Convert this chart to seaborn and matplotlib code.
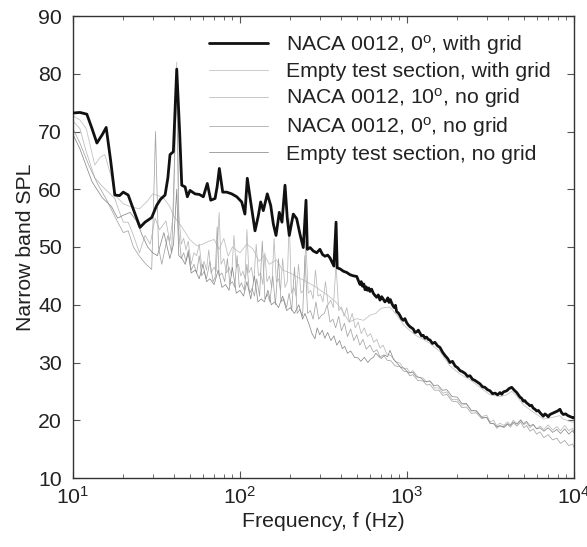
import numpy as np
import pandas as pd
import matplotlib
matplotlib.use("Agg")
import matplotlib.pyplot as plt
import seaborn as sns

# Narrow-band spectra, frequency in Hz and SPL in dB
f_naca0_grid = [10.0, 11.0, 12.1, 13.0, 13.9, 15.0, 15.8, 16.8, 17.8, 19.0, 20.0, 21.4, 23.0, 25.2, 27.0,
                29.6, 31.7, 33.5, 35.6, 37.0, 38.1, 39.9, 41.8, 43.5, 44.8, 46.9, 48.4, 50.2, 53.8, 57.1,
                60.3, 63.7, 66.8, 70.9, 73.0, 75.2, 78.8, 83.2, 89.2, 95.6, 102.4, 107.0, 110.6, 115.9,
                123.0, 128.7, 133.0, 137.9, 145.7, 152.7, 158.3, 164.3, 171.9, 178.4, 186.0, 192.0, 197.3,
                208.5, 218.5, 228.7, 239.3, 248.5, 253.0, 263, 275, 288, 301, 312, 323, 335, 346, 365, 376,
                382, 398, 416, 435, 456, 478, 500, 511, 523, 532, 541, 551, 561, 570, 580, 590, 600, 614,
                628, 643, 658, 673, 689, 705, 720, 737, 755, 768, 780, 795, 809, 825, 840, 853, 867, 886,
                905, 927, 950, 972, 995, 1018, 1042, 1066, 1090, 1116, 1143, 1169, 1195, 1223, 1252, 1281,
                1310, 1341, 1373, 1420, 1470, 1522, 1576, 1632, 1690, 1750, 1809, 1873, 1940, 2008, 2077,
                2150, 2230, 2305, 2384, 2465, 2550, 2640, 2736, 2830, 2930, 3030, 3140, 3250, 3370, 3490,
                3605, 3690, 3780, 3860, 3954, 4090, 4236, 4390, 4539, 4640, 4750, 4860, 4970, 5080, 5200,
                5320, 5450, 5570, 5700, 5840, 5980, 6120, 6260, 6400, 6550, 6700, 6850, 7010, 7180, 7440,
                7700, 7970, 8240, 8430, 8630, 8910, 9200, 9550, 9900, 10000]
spl_naca0_grid = [73.2, 73.3, 73.0, 70.5, 68.0, 69.5, 70.7, 65.0, 59.0, 58.9, 59.5, 59.0, 56.5, 53.4, 54.3,
                  55.1, 57.2, 58.3, 59.0, 62.0, 66.0, 66.5, 80.8, 70.0, 60.7, 60.4, 58.7, 59.8, 59.2, 59.1,
                  58.7, 61.0, 58.1, 58.4, 60.5, 63.6, 59.5, 59.5, 59.2, 58.7, 57.8, 55.7, 61.9, 57.8,
                  52.8, 55.4, 57.8, 56.3, 59.2, 57.2, 54.0, 52.0, 56.0, 54.3, 60.7, 54.9, 52.0,
                  55.7, 54.9, 52.2, 49.9, 58.1, 49.6, 49.9, 49.3, 49.0, 49.6, 48.7, 48.4, 48.6, 48.1, 46.7, 54.3,
                  46.4, 46.2, 45.8, 45.6, 45.2, 45.0, 44.9, 44.2, 43.5, 44.0, 43.2, 43.6, 42.6, 43.1, 42.5, 42.9,
                  42.3, 42.7, 42.0, 41.6, 41.3, 41.7, 40.8, 41.4, 41.0, 40.5, 40.8, 41.2, 40.4, 40.9, 40.3,
                  39.8, 39.5, 39.9, 38.8, 38.6, 38.2, 37.6, 37.3, 37.6, 36.9, 36.5, 36.2, 36.0, 35.8, 35.2,
                  35.3, 35.6, 35.1, 34.6, 34.7, 34.2, 34.4, 34.0, 33.9, 33.3, 33.5, 32.9, 32.6, 31.8, 31.2,
                  30.7, 30.0, 30.2, 29.4, 29.1, 28.6, 28.4, 28.1, 27.6, 27.7, 27.1, 26.9, 26.6, 26.3, 25.8,
                  25.7, 25.3, 25.1, 24.6, 24.7, 24.4, 24.8, 24.5, 24.9, 25.0, 25.1, 25.5, 25.7, 25.2, 24.8,
                  24.4, 24.0, 23.8, 23.3, 23.4, 23.0, 22.8, 22.5, 22.6, 22.1, 21.9, 21.6, 21.7, 21.3, 21.0,
                  20.7, 21.1, 20.9, 20.6, 21.0, 21.2, 21.4, 21.6, 21.9, 21.3, 21.0, 21.1, 20.8, 20.6, 20.4,
                  20.5]

f_empty_grid = [10, 11, 12, 13.5, 14.5, 15.5, 17, 17.8, 20, 22, 25, 28, 30, 33, 35, 38, 40, 43, 45, 50, 55,
                60, 65, 70, 75, 80, 85, 90, 100, 110, 120, 130, 140, 150, 165, 180, 200, 220, 250, 280, 300,
                340, 380, 420, 450, 500, 550, 600, 650, 700, 790, 870, 950, 1042, 1143, 1252, 1373, 1576,
                1809, 2077, 2384, 2736, 3140, 3605, 3954, 4236, 4539, 4970, 5450, 5980, 6550, 7180, 8240,
                8630, 9900]
spl_empty_grid = [72.7, 72.0, 70.5, 64.2, 65.5, 66.0, 62.0, 59.0, 57.5, 57.0, 56.6, 58.0, 59.2, 58.8, 58.4,
                  57.0, 55.4, 54.2, 53.4, 51.3, 50.2, 50.5, 51.0, 51.3, 49.6, 51.5, 48.4, 50.0, 49.0, 50.5,
                  49.6, 47.5, 48.6, 47.0, 47.8, 46.0, 45.5, 44.8, 44.0, 43.2, 42.6, 41.5, 40.3, 38.5, 37.0,
                  37.6, 37.3, 38.2, 38.5, 39.4, 39.6, 38.2, 36.6, 35.5, 34.6, 34.0, 33.3, 31.9, 29.4, 28.0,
                  27.0, 25.7, 24.4, 24.1, 24.4, 25.0, 24.2, 22.7, 21.8, 21.0, 20.2, 20.4, 20.8, 20.2, 19.6]

f_naca10 = [10, 11, 12, 13.5, 15, 17.8, 19, 20, 21.4, 23, 25, 27, 29, 31, 33, 36, 38, 40,
            41.8, 43, 44.5, 46, 47.5, 49, 51, 53, 55, 57, 59, 61, 63, 65, 67, 70, 72, 75, 77, 80, 83, 86,
            89, 92, 95, 98, 101, 104, 107, 110, 113, 117, 121, 125, 129, 133, 137, 141, 145, 150, 155,
            160, 165, 170, 175, 180, 186, 192, 197, 203, 210, 217, 224, 232, 240, 248, 256, 265, 274,
            283, 293, 303, 314, 325, 337, 349, 362, 376, 390, 405, 420, 436, 452, 470, 490, 510, 532,
            555, 580, 605, 632, 660, 689, 720, 755, 800, 850, 906, 955, 1000, 1040, 1085, 1160, 1250,
            1310, 1373, 1460, 1550, 1640, 1730, 1860, 2000, 2130, 2270, 2430, 2600, 2800, 3000, 3150,
            3300, 3450, 3600, 3800, 4000, 4160, 4330, 4560, 4800, 5000, 5200, 5450, 5700, 5980, 6260,
            6600, 7000, 7450, 7900, 8300, 8800, 9300, 9800, 10000]
spl_naca10 = [71.8, 70.5, 66.5, 62.0, 60.5, 58.4, 56.0, 54.3, 54.3, 52.0, 49.0, 52.0, 50.5, 55.0, 53.0,
              54.5, 51.0, 56.0,
              82.0, 56.0, 50.5, 51.5, 49.5, 51.0, 47.0, 49.0, 48.5, 50.5, 46.5, 47.5, 46.0, 49.5, 45.5,
              46.5, 45.8, 56.0, 47.0, 48.0, 45.5, 46.5, 45.0, 52.0, 46.5, 47.0, 45.0, 45.8, 44.5, 53.0,
              45.5, 46.5, 44.0, 50.5, 45.0, 45.5, 43.5, 49.0, 44.0, 45.0, 43.0, 51.5, 44.0, 44.5, 42.5,
              48.0, 43.0, 44.0, 55.0, 42.0, 43.0, 41.5, 47.0, 42.0, 42.5, 51.0, 42.0, 42.5, 41.0, 46.0,
              41.5, 41.8, 40.5, 44.0, 40.0, 40.8, 39.5, 47.0, 39.0, 39.6, 38.0, 39.5, 37.0, 38.5, 36.0,
              37.0, 35.0, 36.0, 34.5, 35.0, 33.5, 34.0, 32.5, 33.0, 31.5, 31.2, 30.2, 29.9, 29.0, 29.0,
              28.2, 28.6, 27.5, 27.3, 26.6, 26.8, 25.6, 25.6, 24.7, 24.9, 23.6, 23.6, 22.6, 22.8, 21.6,
              21.7, 20.6, 20.9, 19.7, 20.0, 19.0, 19.5, 19.1, 19.7, 19.2, 20.0, 19.4, 20.1, 19.2, 19.6,
              18.7, 19.2, 18.5, 19.0, 18.4, 19.2, 18.3, 18.9, 18.2, 19.1, 18.2, 18.6, 18.0]

f_naca0 = [10, 11, 12.5, 14, 16, 18, 20, 21.4, 23, 25, 27, 29.6, 31.2, 32.5, 34, 37, 39,
           41.8, 43, 44.5, 46, 47.5, 49, 51, 53, 55, 57, 59, 61, 63, 66, 69, 71, 73, 75, 78, 81, 84, 87,
           90, 93, 96, 99, 102, 106, 110, 114, 118, 122, 126, 131, 136, 141, 146, 151, 157, 163, 170,
           176, 183, 190, 197, 204, 212, 220, 228, 237, 245, 254, 264, 274, 285, 296, 308, 320, 333, 346,
           360, 374, 390, 405, 422, 440, 460, 480, 500, 522, 545, 570, 600, 630, 660, 689, 725, 760, 800,
           850, 906, 955, 1000, 1040, 1085, 1160, 1250, 1310, 1373, 1460, 1550, 1640, 1730, 1860, 2000,
           2130, 2270, 2430, 2600, 2800, 3000, 3150, 3300, 3450, 3600, 3800, 4000, 4160, 4330, 4560,
           4800, 5000, 5200, 5450, 5700, 5980, 6260, 6600, 7000, 7450, 7900, 8300, 8800, 9300, 9800,
           10000]
spl_naca0 = [70.5, 68.0, 64.0, 61.0, 58.0, 55.0, 52.5, 52.8, 50.0, 48.4, 47.2, 46.1, 70.0, 50.0, 47.0,
             52.0, 49.0,
             78.0, 52.5, 48.0, 49.0, 47.5, 49.5, 46.0, 47.0, 45.5, 48.5, 45.0, 45.8, 44.5, 47.5, 44.0,
             44.8, 53.5, 45.0, 45.5, 44.0, 48.0, 43.5, 44.0, 43.0, 48.5, 43.0, 43.8, 42.5, 47.0, 42.0,
             42.8, 41.5, 44.5, 41.5, 51.0, 41.0, 41.8, 40.5, 45.0, 40.0, 48.0, 40.5, 41.0, 39.5, 42.0,
             39.0, 46.5, 38.5, 39.2, 38.0, 48.5, 38.5, 39.0, 37.5, 40.5, 37.5, 38.2, 38.5, 40.0, 37.0,
             37.5, 36.0, 38.0, 35.5, 36.8, 34.5, 35.8, 33.8, 34.8, 33.0, 34.0, 32.3, 33.0, 31.8, 32.2,
             31.0, 31.3, 30.4, 30.3, 29.4, 29.3, 28.5, 28.4, 27.7, 27.9, 26.9, 26.8, 26.1, 26.2, 25.2,
             25.2, 24.3, 24.5, 23.3, 23.2, 22.2, 22.3, 21.2, 21.3, 20.3, 20.5, 19.4, 19.5, 18.6, 19.1,
             18.7, 19.3, 18.8, 19.5, 19.0, 19.7, 18.7, 19.1, 18.1, 18.5, 17.6, 18.0, 17.0, 17.5, 16.6,
             16.9, 16.0, 16.5, 15.6, 15.9, 15.3]

f_empty = [10, 11, 12, 13, 15, 17, 18.5, 20, 22, 24, 26, 28, 30, 32, 35, 38, 40, 41.8, 43, 45, 47, 49,
           51, 54, 57, 60, 63, 66, 70, 74, 78, 82, 86, 90, 95, 100, 105, 110, 116, 122, 128, 134, 140,
           147, 154, 162, 170, 180, 190, 200, 212, 225, 237, 245, 260, 270, 281, 290, 300, 311, 322, 335,
           350, 365, 380, 395, 410, 424, 440, 460, 485, 509, 530, 555, 583, 605, 630, 650, 670, 700, 737,
           765, 791, 830, 870, 915, 960, 1020, 1085, 1140, 1200, 1280, 1373, 1450, 1530, 1630, 1730,
           1860, 2000, 2130, 2270, 2430, 2600, 2800, 3000, 3150, 3300, 3450, 3600, 3800, 4000, 4160,
           4330, 4560, 4800, 5000, 5200, 5450, 5700, 5980, 6260, 6600, 7000, 7450, 7900, 8300, 8800,
           9300, 9800, 10000]
spl_empty = [69.5, 67.0, 64.0, 61.3, 58.5, 57.0, 55.0, 55.5, 56.0, 54.5, 52.0, 50.0, 49.0, 48.5, 52.5,
             48.0, 50.5, 60.0, 48.5, 48.0, 47.0, 49.0, 45.5, 46.0, 44.5, 47.0, 44.0, 44.5, 43.5, 46.0,
             43.0, 43.5, 42.5, 46.5, 42.0, 42.5, 41.5, 44.0, 41.0, 45.0, 40.5, 41.0, 40.5, 42.5, 40.0,
             40.5, 39.5, 41.5, 39.0, 39.5, 38.5, 40.0, 37.5, 38.5, 36.5, 35.0, 34.1, 36.0, 34.8, 35.6,
             34.2, 35.2, 33.8, 34.6, 33.0, 33.8, 32.4, 32.8, 31.6, 32.0, 30.9, 30.8, 30.2, 30.9, 30.0,
             30.6, 30.9, 31.6, 31.2, 30.7, 31.3, 31.0, 32.1, 30.6, 29.9, 29.2, 29.0, 28.2, 28.3, 27.5,
             27.4, 26.7, 26.8, 26.0, 26.1, 25.2, 25.3, 24.1, 24.0, 22.9, 22.9, 21.7, 21.6, 20.5, 20.5,
             19.5, 19.4, 18.9, 19.0, 18.9, 19.4, 19.1, 19.7, 19.3, 20.0, 19.4, 19.8, 19.0, 19.3, 18.5,
             18.7, 18.1, 18.7, 17.9, 18.4, 17.7, 18.5, 17.6, 18.2, 17.8]

labels = [r"NACA 0012, 0$^{\rm o}$, with grid",
          "Empty test section, with grid",
          r"NACA 0012, 10$^{\rm o}$, no grid",
          r"NACA 0012, 0$^{\rm o}$, no grid",
          "Empty test section, no grid"]

series = [(f_naca0_grid, spl_naca0_grid, "#111111", 2.0),
          (f_empty_grid, spl_empty_grid, "#c4c4c4", 0.6),
          (f_naca10, spl_naca10, "#b8b8b8", 0.55),
          (f_naca0, spl_naca0, "#a4a4a4", 0.55),
          (f_empty, spl_empty, "#8a8a8a", 0.55)]

sns.set_theme(style="ticks")
plt.rcParams["font.family"] = ["Liberation Sans", "DejaVu Sans"]
plt.rcParams["mathtext.fontset"] = "custom"
plt.rcParams["mathtext.rm"] = "Liberation Sans"
plt.rcParams["mathtext.it"] = "Liberation Sans:italic"
plt.rcParams["mathtext.default"] = "regular"

FS = 15.3
fig = plt.figure(figsize=(5.87, 5.47), dpi=100)
ax = fig.add_axes([73 / 587, 1 - 478 / 547, (574 - 73) / 587, (478 - 16) / 547])

# grey spectra first, black one on top
order = [1, 2, 3, 4, 0]
for i in order:
    fx, sy, col, lw = series[i]
    df = pd.DataFrame({"f": fx, "spl": sy})
    sns.lineplot(data=df, x="f", y="spl", ax=ax, color=col, linewidth=lw,
                 estimator=None, sort=False, label=labels[i], zorder=3 if i == 0 else 2)

ax.set_xscale("log")
ax.set_xlim(10, 1e4)
ax.set_ylim(10, 90)
ax.set_yticks(np.arange(10, 91, 10))
ax.set_xlabel("Frequency, f (Hz)", fontsize=FS, color="#222222", labelpad=3)
ax.set_ylabel("Narrow band SPL", fontsize=FS, color="#222222", labelpad=2)
ax.tick_params(which="both", direction="in", top=True, right=True, colors="#555555",
               labelcolor="#222222", labelsize=FS)
ax.tick_params(which="major", length=5, width=0.8)
ax.tick_params(which="minor", length=3, width=0.6)
ax.tick_params(axis="x", which="major", pad=6)
ax.tick_params(axis="y", which="major", pad=8)
for s in ax.spines.values():
    s.set_color("#333333")
    s.set_linewidth(1.0)

handles, labs = ax.get_legend_handles_labels()
hmap = dict(zip(labs, handles))
leg = ax.legend([hmap[l] for l in labels], labels, loc="upper right", frameon=False,
                fontsize=FS, handlelength=2.75, handletextpad=0.85, labelspacing=0.24,
                bbox_to_anchor=(0.983, 0.995), borderaxespad=0.3)
for t in leg.get_texts():
    t.set_color("#222222")

fig.savefig("out.png", dpi=100)
